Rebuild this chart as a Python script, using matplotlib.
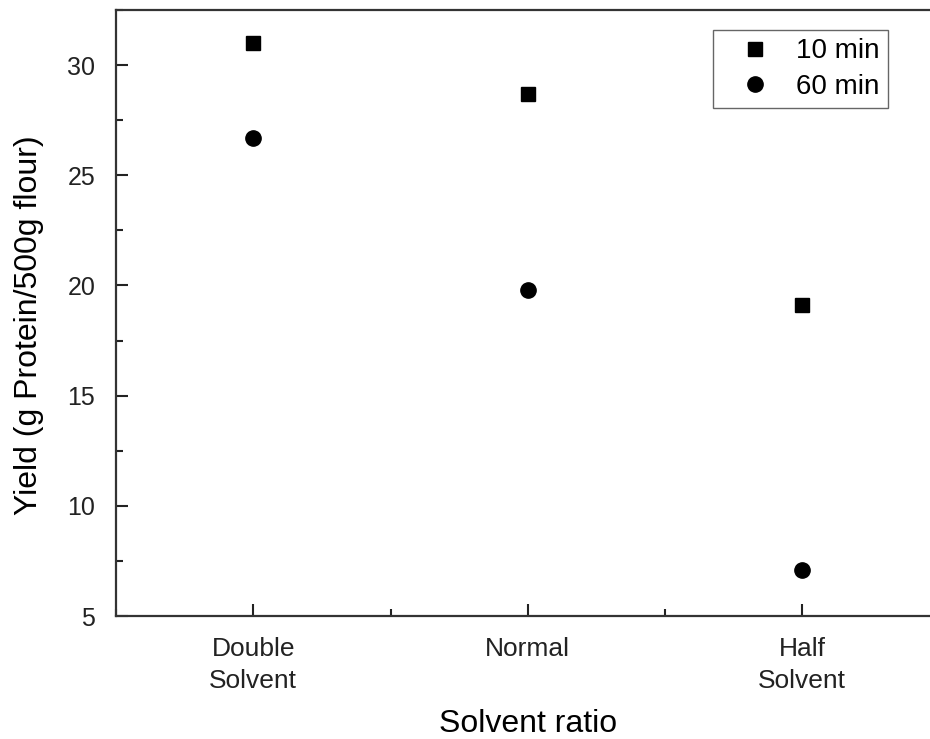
import matplotlib
matplotlib.use("Agg")
import matplotlib.pyplot as plt
from matplotlib.ticker import MultipleLocator

# Protein yield per solvent ratio, two extraction times
categories = ["Double\nSolvent", "Normal", "Half\nSolvent"]
yield_10min = [31.0, 28.7, 19.1]
yield_60min = [26.7, 19.8, 7.1]

plt.rcParams["font.family"] = ["Liberation Sans", "DejaVu Sans"]

fig = plt.figure(figsize=(9.3, 7.39), dpi=100)
# axes runs past the right edge of the figure on purpose
ax = fig.add_axes([116 / 930, 1 - 616 / 739, 823.5 / 930, 606 / 739])

x = list(range(len(categories)))
ax.plot(x, yield_10min, "s", color="black", markersize=9.5, label="10 min")
ax.plot(x, yield_60min, "o", color="black", markersize=11, label="60 min")

ax.set_xlim(-0.5, 2.5)
ax.set_ylim(5, 32.5)
ax.set_xticks(x)
ax.set_xticklabels(categories, fontsize=19, linespacing=1.45)
ax.xaxis.set_minor_locator(MultipleLocator(0.5))
ax.yaxis.set_major_locator(MultipleLocator(5))
ax.yaxis.set_minor_locator(MultipleLocator(2.5))

ax.tick_params(which="both", direction="in", width=1.5, colors="#222222")
ax.tick_params(which="major", length=8.5)
ax.tick_params(which="minor", length=5)
ax.tick_params(axis="y", labelsize=18, pad=15)
ax.tick_params(axis="x", pad=15)
ax.tick_params(top=False, right=False, which="both")

for side in ax.spines.values():
    side.set_linewidth(1.6)
    side.set_color("#333333")

ax.set_xlabel("Solvent ratio", fontsize=23, labelpad=11)
ax.set_ylabel("Yield (g Protein/500g flour)", fontsize=23)
ax.yaxis.set_label_coords(-0.087, 0.48)

ax.legend(loc="upper left", bbox_to_anchor=(597 / 823.5, 1 - 20 / 606), fontsize=20,
          frameon=True, fancybox=False, edgecolor="#666666", framealpha=1,
          handletextpad=0.3, borderpad=0.3, borderaxespad=0, labelspacing=0.35,
          handlelength=2.4)

fig.savefig("out.png", dpi=100)
